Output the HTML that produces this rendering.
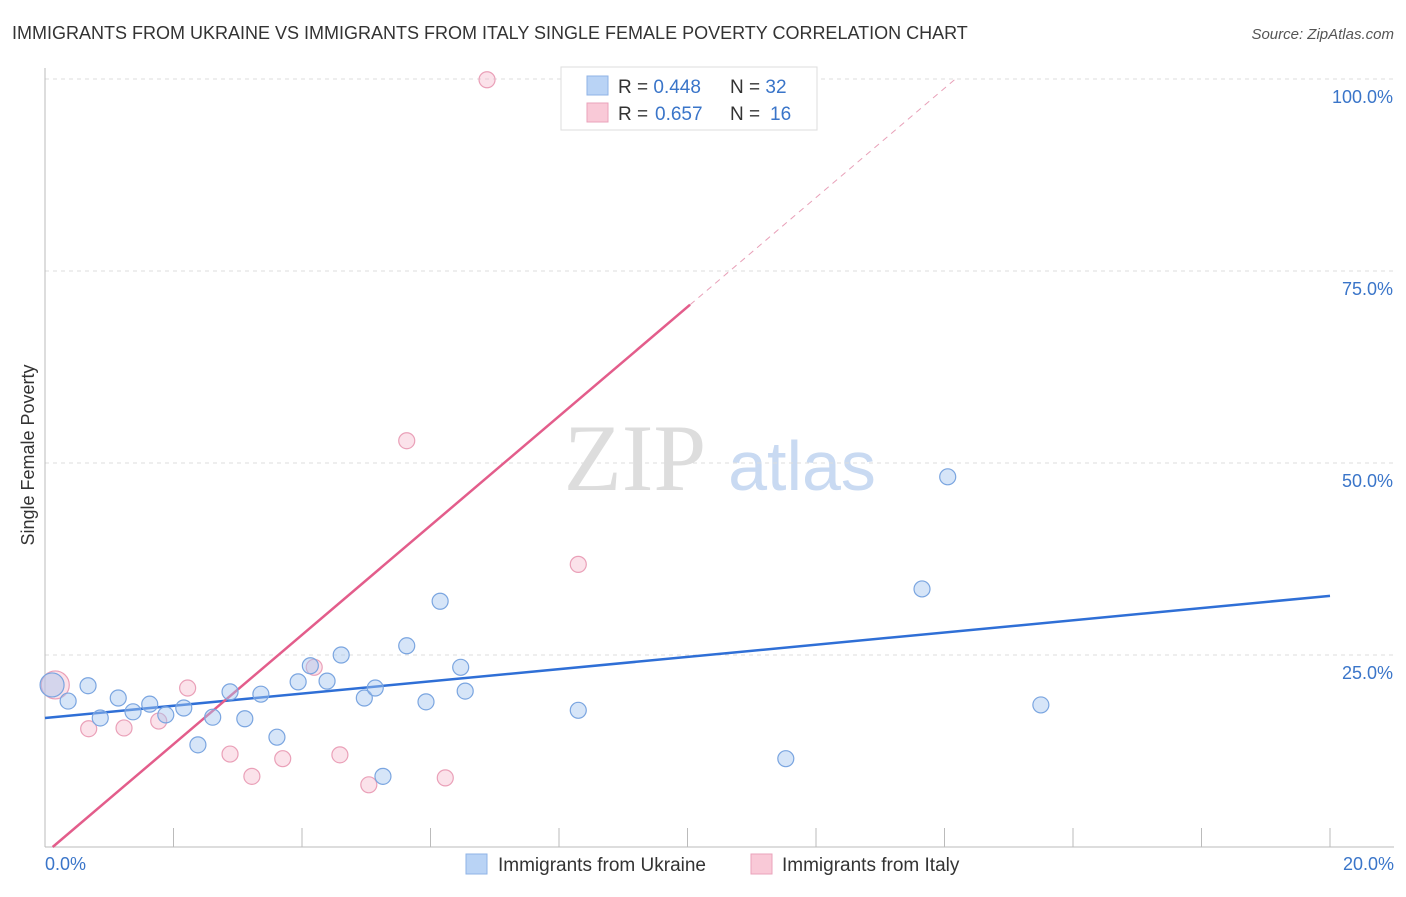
<!DOCTYPE html>
<html><head><meta charset="utf-8"><style>
body{margin:0;background:#fff;font-family:"Liberation Sans",sans-serif;}
</style></head><body>
<svg id="c" width="1406" height="892" xmlns="http://www.w3.org/2000/svg" style="font-family:'Liberation Sans',sans-serif">
<text x="12" y="39" font-size="18" fill="#333">IMMIGRANTS FROM UKRAINE VS IMMIGRANTS FROM ITALY SINGLE FEMALE POVERTY CORRELATION CHART</text>
<text x="1394" y="39" font-size="15" fill="#555" font-style="italic" text-anchor="end">Source: ZipAtlas.com</text>
<text transform="translate(34,455) rotate(-90)" font-size="18" fill="#333" text-anchor="middle">Single Female Poverty</text>
<g>
<text x="635" y="490" font-size="95" fill="#ddd" font-family="'Liberation Serif',serif" text-anchor="middle">ZIP</text>
<text x="802" y="490" font-size="70" fill="#c9daf2" text-anchor="middle">atlas</text>
</g>
<g id="grid"></g><g id="axes"></g><g id="lines"></g><g id="pts"></g>
<g>
<rect x="561" y="67" width="256" height="63" fill="#fff" stroke="#ddd"/>
<rect x="587" y="76" width="21" height="19" fill="#b9d3f5" stroke="#8fb3e6"/>
<rect x="587" y="103" width="21" height="19" fill="#f9c9d7" stroke="#eaa3bb"/>
<text x="618" y="93" font-size="19" fill="#333">R = <tspan fill="#3a75c9">0.448</tspan><tspan x="730">N = </tspan><tspan fill="#3a75c9">32</tspan></text>
<text x="618" y="120" font-size="19" fill="#333">R = <tspan fill="#3a75c9" x="655">0.657</tspan><tspan x="730">N = </tspan><tspan fill="#3a75c9" x="770">16</tspan></text>
</g>
<g>
<rect x="466" y="854" width="21" height="20" fill="#b9d3f5" stroke="#8fb3e6"/>
<text x="498" y="871" font-size="19" fill="#333">Immigrants from Ukraine</text>
<rect x="751" y="854" width="21" height="20" fill="#f9c9d7" stroke="#eaa3bb"/>
<text x="782" y="871" font-size="19" fill="#333">Immigrants from Italy</text>
</g>
</svg>
<script>
const ukraineX=[0.11,0.36,0.67,0.86,1.14,1.37,1.63,1.88,2.16,2.38,2.61,2.88,3.11,3.36,3.61,3.94,4.13,4.39,4.61,4.97,5.14,5.26,5.63,5.93,6.15,6.47,6.54,8.30,11.53,13.65,14.05,15.50];
const ukraineY=[21.1,19.0,21.0,16.8,19.4,17.6,18.6,17.2,18.1,13.3,16.9,20.2,16.7,19.9,14.3,21.5,23.6,21.6,25.0,19.4,20.7,9.2,26.2,18.9,32.0,23.4,20.3,17.8,11.5,33.6,48.2,18.5];
const italyX=[0.16,0.68,1.23,1.77,2.22,2.88,3.22,3.70,4.19,4.59,5.04,5.63,6.23,6.88,8.30,9.96];
const italyY=[21.1,15.4,15.5,16.4,20.7,12.1,9.2,11.5,23.4,12.0,8.1,52.9,9.0,99.9,36.8,100.1];
const yTicks=[25,50,75,100];
const xTicks=[0,2,4,6,8,10,12,14,16,18,20];
const blueTrend=[16.8,32.7];
const pinkTrend=[-0.85,141.5];
const NS="http://www.w3.org/2000/svg";
const X=v=>45+v/20*1285, Y=v=>847-v/25*192;
function mk(t,a,p){const e=document.createElementNS(NS,t);for(const k in a)e.setAttribute(k,a[k]);document.getElementById(p).appendChild(e);return e;}
const g=mk('line',{x1:45,y1:68,x2:45,y2:847,stroke:'#bbb'},'axes');


const xa=mk('line',{x1:45,y1:847,x2:1394,y2:847,stroke:'#bbb'},'axes');


yTicks.forEach(t=>{
 const l=mk('line',{x1:45,y1:Y(t),x2:1394,y2:Y(t),stroke:'#ddd','stroke-dasharray':'4,4'},'grid');
 
 
 const tx=mk('text',{x:1393,y:Y(t)+24,'font-size':18,fill:'#3a75c9','text-anchor':'end'},'axes');
 tx.textContent=t.toFixed(1)+'%';
 
 
});
xTicks.forEach(t=>{if(t===0)return;
 const l=mk('line',{x1:X(t),y1:828,x2:X(t),y2:847,stroke:'#bbb'},'axes');
 
 
});
[[0,'0.0%','start',45],[20,'20.0%','end',1394]].forEach(d=>{
 const tx=mk('text',{x:d[3],y:870,'font-size':18,fill:'#3a75c9','text-anchor':d[2]},'axes');
 tx.textContent=d[1];
 
 
});
const bl=mk('line',{x1:X(0),y1:Y(blueTrend[0]),x2:X(20),y2:Y(blueTrend[1]),stroke:'#2f6fd6','stroke-width':2.5},'lines');


const py=x=>pinkTrend[0]+(pinkTrend[1]-pinkTrend[0])*x/20;
const x0=20*(0-pinkTrend[0])/(pinkTrend[1]-pinkTrend[0]);
const x100=20*(100-pinkTrend[0])/(pinkTrend[1]-pinkTrend[0]);
const pl=mk('line',{x1:X(x0),y1:Y(0),x2:X(10.04),y2:Y(py(10.04)),stroke:'#e35d8b','stroke-width':2.5},'lines');


const pd=mk('line',{x1:X(10.04),y1:Y(py(10.04)),x2:X(x100),y2:Y(100),stroke:'#e8a0b8','stroke-width':1,'stroke-dasharray':'6,5'},'lines');


italyX.forEach((x,i)=>{
 const c=mk('circle',{cx:X(x),cy:Y(italyY[i]),r:i===0?14:8,fill:'rgba(246,182,202,0.4)',stroke:'#eaa0b8','stroke-width':1.2},'pts');
 
 
});
ukraineX.forEach((x,i)=>{
 const c=mk('circle',{cx:X(x),cy:Y(ukraineY[i]),r:i===0?12:8,fill:'rgba(165,198,240,0.45)',stroke:'#7aa5e0','stroke-width':1.2},'pts');
 
 
});
</script>
</body></html>
